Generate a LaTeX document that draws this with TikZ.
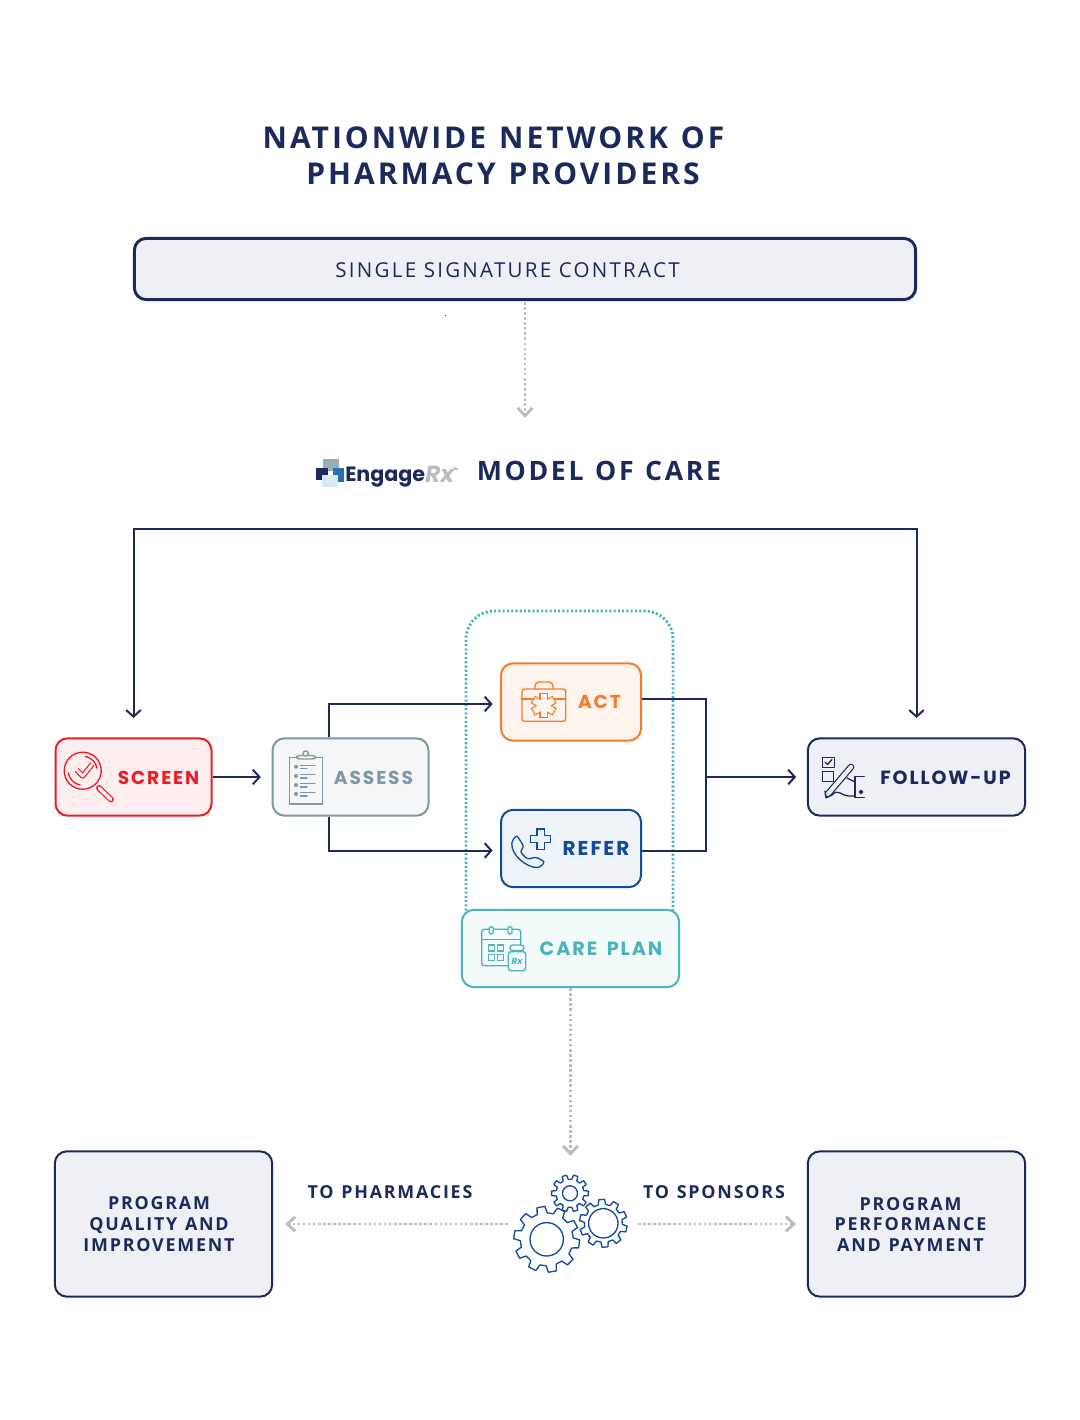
\documentclass[tikz,border=0pt]{standalone}
\usepackage{fontspec}
\setmainfont{Open Sans}
\newfontfamily\titlefont[LetterSpace=10,WordSpace=1.5]{Open Sans}
\newfontfamily\plainfont[LetterSpace=11]{Open Sans}
\newfontfamily\programfont[LetterSpace=10,WordSpace=1.2]{Open Sans}
\newfontfamily\labelfont[LetterSpace=10]{Poppins}
\newfontfamily\caplabelfont[LetterSpace=10,WordSpace=1.6]{Poppins}
\newfontfamily\logofont{Poppins}
\usetikzlibrary{arrows.meta,calc}

\definecolor{navy}{HTML}{1B2A5B}
\definecolor{navyfill}{HTML}{EEF0F5}
\definecolor{redline}{HTML}{ED1C24}
\definecolor{redfill}{HTML}{FDEFF0}
\definecolor{orangeline}{HTML}{F47B2A}
\definecolor{orangefill}{HTML}{FEF4EE}
\definecolor{blueline}{HTML}{134A9A}
\definecolor{bluefill}{HTML}{EEF3F8}
\definecolor{tealline}{HTML}{4DB3BA}
\definecolor{tealfill}{HTML}{F2FAFA}
\definecolor{slateline}{HTML}{7F98A5}
\definecolor{slatefill}{HTML}{F4F6F8}
\definecolor{dotgrey}{HTML}{BDBDBD}
\definecolor{logoblue}{HTML}{2A6DB5}
\definecolor{logopale}{HTML}{D5EAF8}

\tikzset{
    stepbox/.style={draw, rounded corners=9pt, line width=1.5pt, inner sep=0pt},
    flow/.style={draw=navy, line width=1.5pt, >={Straight Barb[length=5pt,width=11pt,line width=1.5pt]}},
    feed/.style={draw=dotgrey, line width=2.2pt, dash pattern=on 1.9pt off 1.9pt,
        >={Straight Barb[length=6pt,width=11pt,line width=2.2pt]}},
    icon/.style={line width=1pt, line join=round, line cap=round},
    steplabel/.style={inner sep=0pt, font=\labelfont\bfseries\fontsize{14}{14}\selectfont},
    programlabel/.style={inner sep=0pt, align=center, text=navy,
        font=\programfont\bfseries\fontsize{13.4}{15.7}\selectfont},
}

% gear outline: centre, outer radius, root radius, hole radius, turn.
\newcommand{\gearwheel}[5]{
    \draw[icon, draw=blueline] (#1) ++({#5-11}:#3)
        \foreach \t in {0,...,9} {
            -- ($(#1)+({#5+36*\t-11}:#3)$) -- ($(#1)+({#5+36*\t-7}:#2)$)
            -- ($(#1)+({#5+36*\t+7}:#2)$) -- ($(#1)+({#5+36*\t+11}:#3)$)
        } -- cycle;
    \draw[icon, draw=blueline] (#1) circle (#4);
}

\begin{document}
\begin{tikzpicture}[x=0.75pt, y=-0.75pt]
    \useasboundingbox (0, 0) rectangle (1080, 1420);
    % Titles.
    \node[inner sep=0pt, text=navy, font=\titlefont\bfseries\fontsize{22.5}{23}\selectfont] (title one) at (493.5, 138) {NATIONWIDE NETWORK OF};
    \node[inner sep=0pt, text=navy, font=\titlefont\bfseries\fontsize{22.5}{23}\selectfont] (title two) at (503, 174) {PHARMACY PROVIDERS};
    \node[inner sep=0pt, text=navy, font=\titlefont\bfseries\fontsize{20}{20}\selectfont] (model title) at (599, 471) {MODEL OF CARE};
    % Contract box.
    \node[stepbox, draw=navy, fill=navyfill, line width=2.2pt, minimum width=586pt, minimum height=46pt] (contract) at (525, 269) {};
    \node[inner sep=0pt, text=navy, font=\plainfont\fontsize{15.4}{15.4}\selectfont] (contract label) at (507.5, 270) {SINGLE SIGNATURE CONTRACT};
    \fill[navy] (445.5, 315.5) circle (0.6) coordinate (speck);
    % Logo.
    \fill[slateline!80] (322.7, 459.3) rectangle (339, 470.7);
    \fill[navy] (316, 468.3) rectangle (328.3, 480);
    \fill[logoblue] (333.3, 468.3) rectangle (344, 481.7);
    \fill[logopale] (321.7, 475) rectangle (338.3, 487.3);
    \node[inner sep=0pt, anchor=base west, text=navy, font=\logofont\bfseries\fontsize{15.5}{17}\selectfont] (logo name) at (345, 481) {Engage};
    \node[inner sep=0pt, anchor=base west, text=dotgrey, font=\logofont\bfseries\itshape\fontsize{17.5}{20}\selectfont] (logo rx) at (425, 482) {Rx};
    \node[inner sep=0pt, text=navy, font=\fontsize{2.5}{3}\selectfont] (logo tm) at (455.5, 469) {TM};
    % Dotted care plan frame.
    \draw[tealline, line width=2.2pt, dash pattern=on 1.6pt off 1.6pt, rounded corners=21pt]
        (466, 915) -- (466, 611) -- (673, 611) -- (673, 915);
    % Step boxes.
    \node[stepbox, draw=redline, fill=redfill, minimum width=117pt, minimum height=58pt] (screen) at (133.5, 777) {};
    \node[stepbox, draw=slateline, fill=slatefill, minimum width=117pt, minimum height=58pt] (assess) at (350.5, 777) {};
    \node[stepbox, draw=orangeline, fill=orangefill, minimum width=105pt, minimum height=58pt] (act) at (571, 702) {};
    \node[stepbox, draw=blueline, fill=bluefill, minimum width=105pt, minimum height=58pt] (refer) at (571, 848.5) {};
    \node[stepbox, draw=tealline, fill=tealfill, minimum width=163pt, minimum height=58pt] (care plan) at (570.5, 948.5) {};
    \node[stepbox, draw=navy, fill=navyfill, minimum width=163pt, minimum height=58pt] (follow up) at (916.5, 777) {};
    \node[stepbox, draw=navy, fill=navyfill, minimum width=163pt, minimum height=109pt] (quality) at (163.5, 1224) {};
    \node[stepbox, draw=navy, fill=navyfill, minimum width=163pt, minimum height=109pt] (performance) at (916.5, 1224) {};
    % Step labels.
    \node[steplabel, text=redline] (screen label) at (158.5, 777.5) {SCREEN};
    \node[steplabel, text=slateline] (assess label) at (373.5, 777.5) {ASSESS};
    \node[steplabel, text=orangeline] (act label) at (599.5, 702) {ACT};
    \node[steplabel, text=blueline, font=\labelfont\bfseries\fontsize{15}{15}\selectfont] (refer label) at (596, 848.5) {REFER};
    \node[steplabel, text=tealline, font=\caplabelfont\bfseries\fontsize{14.4}{14.4}\selectfont] (care label) at (601, 949) {CARE PLAN};
    \node[steplabel, text=navy, font=\labelfont\bfseries\fontsize{14.3}{14.3}\selectfont] (follow label) at (945.5, 777.5) {FOLLOW-UP};
    \node[programlabel] (quality label) at (159, 1224.5) {PROGRAM\\QUALITY AND\\IMPROVEMENT};
    \node[programlabel] (performance label) at (910.5, 1224.5) {PROGRAM\\PERFORMANCE\\AND PAYMENT};
    \node[inner sep=0pt, text=navy, font=\programfont\bfseries\fontsize{13.4}{14}\selectfont] (pharmacies label) at (390, 1192) {TO PHARMACIES};
    \node[inner sep=0pt, text=navy, font=\programfont\bfseries\fontsize{13.4}{14}\selectfont] (sponsors label) at (714, 1192) {TO SPONSORS};
    % Navy connectors.
    \coordinate (screen top) at (133.5, 718);
    \coordinate (loop left) at (133.5, 529);
    \coordinate (loop right) at (916.5, 529);
    \coordinate (follow top) at (916.5, 718);
    \coordinate (join) at (706, 777);
    \draw[flow, <->] (screen top) -- (loop left) -- (loop right) -- (follow top);
    \draw[flow, ->, shorten >=8pt] (screen) -- (assess);
    \draw[flow, ->, shorten >=5.5pt] ($(assess.north)+(-21.5, 0)$) |- ($(act.west)+(0, 2)$);
    \draw[flow, ->, shorten >=5.5pt] ($(assess.south)+(-21.5, 0)$) |- ($(refer.west)+(0, 2)$);
    \draw[flow] ($(act.east)+(0, -3)$) -| (join);
    \draw[flow] ($(refer.east)+(0, 2.5)$) -| (join);
    \draw[flow, ->, shorten >=8pt] (join) -- (follow up);
    % Grey dotted arrows.
    \coordinate (model top) at (525, 418);
    \coordinate (gears top) at (570.5, 1156);
    \coordinate (gears left) at (508, 1224);
    \coordinate (gears right) at (638, 1224);
    \draw[feed, ->] (contract) ++(0, 33) -- (model top);
    \draw[feed, ->] (care plan.south) -- (gears top);
    \draw[feed, ->, shorten >=9pt] (gears left) -- (quality);
    \draw[feed, ->, shorten >=8pt] (gears right) -- (performance);
    % Gears.
    \gearwheel{546.7, 1239.3}{33}{26.5}{16.7}{8}
    \gearwheel{603.3, 1223.3}{24}{19}{14.7}{14}
    \gearwheel{570, 1193.3}{18.5}{14}{7.5}{0}
    % Screen icon.
    \draw[icon, redline] (82.7, 770.7) circle (18.5);
    \draw[icon, redline] (82.7, 770.7) ++(100:14.5) arc (100:170:14.5);
    \draw[icon, redline] (82.7, 770.7) ++(-10:14.5) arc (-10:-80:14.5);
    \draw[redline, line width=4.4pt, line cap=round] (99, 788) -- (111, 799.5);
    \draw[redfill, line width=2.6pt, line cap=round] (99, 788) -- (111, 799.5);
    \draw[redline, line width=4pt, line join=round] (76.7, 770) -- (82.7, 776) -- (92.5, 764);
    \draw[redfill, line width=2.2pt, line join=round] (76.7, 770) -- (82.7, 776) -- (92.5, 764);
    % Assess icon.
    \draw[icon, slateline] (289.3, 757.3) rectangle (322.3, 804);
    \draw[icon, slateline, fill=slatefill, rounded corners=2pt] (296.7, 759) -- (296.7, 755.5) -- (315.5, 755.5) -- (315.5, 759) -- cycle;
    \draw[icon, slateline, fill=slatefill] (305.7, 753.5) circle (2.6);
    \foreach \rowy in {766.7, 776, 785, 794} {
        \fill[slateline] (296, \rowy) circle (2);
        \draw[icon, slateline] (300.5, \rowy - 1.5) -- (315, \rowy - 1.5);
        \draw[icon, slateline] (300.5, \rowy + 2) -- (307, \rowy + 2);
    }
    % Act icon.
    \draw[icon, orangeline, rounded corners=2pt] (522, 689) rectangle (565.7, 721.3);
    \draw[icon, orangeline, rounded corners=3pt] (535, 689) -- (535, 682) -- (553, 682) -- (553, 689);
    \draw[icon, orangeline] (522, 699) -- (565.7, 699);
    \foreach \armangle in {30, 90, 150} {
        \draw[orangeline, line width=6.4pt] ($(543.7, 705.7)+(\armangle:12.5)$) -- ($(543.7, 705.7)+(\armangle+180:12.5)$);
    }
    \foreach \armangle in {30, 90, 150} {
        \draw[orangefill, line width=4.6pt] ($(543.7, 705.7)+(\armangle:11.3)$) -- ($(543.7, 705.7)+(\armangle+180:11.3)$);
    }
    % Refer icon.
    \draw[icon, blueline, rounded corners=2pt] (516.7, 835) -- (524, 846.7) -- (520, 851.7)
        .. controls (523, 855) and (526, 858) .. (530, 859.3) -- (535, 856.7) -- (545, 861.7) -- (540, 867.3)
        .. controls (527, 868) and (511, 855) .. (512, 841) -- cycle;
    \draw[blueline, line width=6.6pt] (530, 839) -- (551.4, 839);
    \draw[blueline, line width=6.6pt] (540.7, 828.3) -- (540.7, 849.7);
    \draw[bluefill, line width=4.8pt] (531.2, 839) -- (550.2, 839);
    \draw[bluefill, line width=4.8pt] (540.7, 829.5) -- (540.7, 848.5);
    % Care plan icon.
    \draw[icon, tealline, rounded corners=2pt] (508, 965.7) -- (481.7, 965.7) -- (481.7, 929.3) -- (520.7, 929.3) -- (520.7, 945);
    \draw[icon, tealline] (481.7, 939.3) -- (520.7, 939.3);
    \draw[icon, tealline, fill=tealfill, rounded corners=1pt] (489.3, 926.7) rectangle (493.3, 934);
    \draw[icon, tealline, fill=tealfill, rounded corners=1pt] (508, 926.7) rectangle (512, 934);
    \foreach \boxx in {488.3, 497.7} {
        \foreach \boxy in {945, 954.3} {
            \draw[icon, tealline] (\boxx, \boxy) rectangle ++(6, 6);
        }
    }
    \draw[icon, tealline, fill=tealfill, rounded corners=2pt] (508.3, 951.7) rectangle (525.7, 970.7);
    \draw[icon, tealline, fill=tealfill, rounded corners=2pt] (510, 945) rectangle (524, 950.5);
    \node[inner sep=0pt, text=tealline, font=\logofont\bfseries\itshape\fontsize{6.5}{6.5}\selectfont] (bottle label) at (517, 961.5) {Rx};
    % Follow-up icon.
    \draw[icon, navy] (822.3, 757.3) rectangle (834.3, 767.3);
    \draw[icon, navy] (825, 762) -- (827.5, 764.5) -- (832, 759.5);
    \draw[icon, navy] (822.3, 771.7) rectangle (833.3, 781.7);
    \draw[navy, line width=5pt, line cap=round] (828, 794) -- (851, 767);
    \draw[navyfill, line width=3.2pt, line cap=round] (828, 794) -- (851, 767);
    \draw[icon, navy] (826, 797.7) -- (825, 791);
    \draw[icon, navy] (826, 797.7) -- (832, 795);
    \draw[icon, navy] (832, 795) .. controls (838, 788) and (842, 796) .. (848, 796) -- (855, 796);
    \draw[icon, navy] (847, 778) -- (855, 782);
    \draw[icon, navy] (864.3, 776.7) -- (855, 776.7) -- (855, 797.7) -- (864.3, 797.7);
    \draw[icon, navy] (861, 792) circle (1.6);
\end{tikzpicture}
\end{document}
